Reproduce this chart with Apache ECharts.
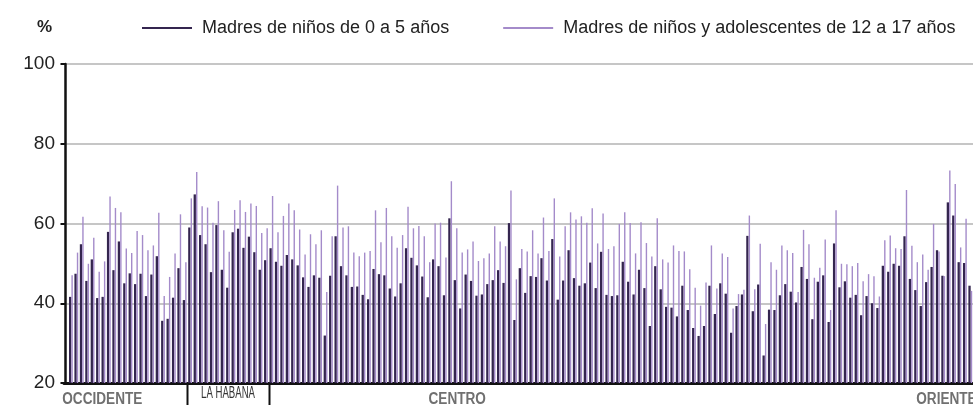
<!DOCTYPE html>
<html>
<head>
<meta charset="utf-8">
<title>Madres por municipio</title>
<script src="https://cdn.jsdelivr.net/npm/echarts@6/dist/echarts.min.js"></script>
<style>
  html, body { margin: 0; padding: 0; background: #fff; }
  #main { width: 973px; height: 405px; }
</style>
</head>
<body>
<div id="main"></div>
<script>
// porcentaje por municipio (orden occidente -> oriente)
const madres0a5 = [
  41.6, 47.4, 54.8, 45.6, 51.0, 41.3, 41.6, 57.9, 48.3, 55.5,
  45.0, 47.5, 44.8, 47.4, 41.8, 47.2, 51.8, 35.6, 36.1, 41.4,
  48.8, 40.8, 59.0, 67.3, 57.1, 54.8, 47.8, 59.6, 48.4, 43.9,
  57.8, 58.7, 53.9, 56.7, 52.8, 48.4, 50.8, 53.8, 50.4, 49.4,
  52.1, 51.0, 49.5, 46.5, 44.1, 47.0, 46.4, 31.9, 46.9, 56.8,
  49.3, 47.0, 44.1, 44.2, 42.1, 41.0, 48.6, 47.3, 47.0, 43.7,
  41.7, 45.0, 53.8, 51.4, 49.5, 46.7, 41.5, 51.0, 49.3, 42.0,
  61.3, 45.8, 38.7, 47.2, 45.6, 41.9, 42.2, 44.8, 45.8, 48.3,
  45.1, 60.1, 35.8, 48.8, 42.6, 46.8, 46.6, 51.3, 45.7, 56.1,
  40.9, 45.7, 53.3, 46.3, 44.4, 45.0, 50.2, 43.8, 52.9, 42.1,
  41.8, 42.0, 50.4, 45.4, 42.2, 48.4, 43.8, 34.3, 49.3, 43.5,
  39.1, 38.9, 36.7, 44.4, 38.3, 33.8, 31.8, 34.3, 44.4, 37.3,
  45.0, 42.4, 32.6, 39.3, 42.2, 56.9, 38.0, 44.7, 26.9, 38.4,
  38.3, 42.0, 44.8, 42.9, 40.2, 49.1, 46.1, 36.0, 45.4, 47.0,
  35.3, 55.0, 44.0, 45.5, 41.4, 42.1, 37.0, 41.8, 40.0, 38.8,
  49.4, 47.9, 49.9, 49.4, 56.8, 46.1, 43.3, 39.3, 45.3, 49.1,
  53.3, 46.9, 65.3, 62.0, 50.3, 50.1, 44.4
];
const madres12a17 = [
  47.0, 52.7, 61.7, 49.9, 56.4, 47.9, 50.5, 66.8, 63.9, 62.8,
  53.7, 52.6, 58.1, 57.1, 53.3, 54.5, 62.7, 41.8, 46.6, 52.5,
  62.3, 50.3, 66.3, 72.9, 64.3, 64.0, 60.2, 65.6, 58.3, 52.9,
  63.4, 65.8, 62.9, 65.0, 64.4, 57.6, 58.8, 66.9, 57.8, 61.9,
  65.0, 63.3, 58.5, 52.2, 57.3, 54.8, 58.3, 42.8, 56.8, 69.5,
  59.0, 59.3, 52.7, 51.8, 52.7, 53.1, 63.3, 55.3, 63.9, 56.8,
  53.9, 57.1, 64.2, 58.8, 59.4, 56.8, 50.3, 60.0, 60.2, 51.5,
  70.6, 58.8, 52.7, 53.5, 55.5, 50.6, 51.3, 52.5, 59.3, 55.5,
  54.3, 68.3, 46.0, 53.6, 53.0, 58.3, 52.5, 61.5, 53.1, 66.3,
  51.7, 59.3, 62.8, 61.0, 61.8, 60.2, 63.8, 55.0, 62.5, 53.6,
  54.3, 59.9, 62.8, 60.1, 52.5, 60.3, 55.1, 51.7, 61.3, 51.0,
  50.2, 54.5, 53.1, 53.0, 48.5, 43.9, 39.4, 45.2, 54.5, 43.7,
  52.5, 51.6, 38.7, 42.3, 43.4, 62.0, 43.5, 54.9, 34.8, 50.3,
  48.4, 54.5, 53.3, 52.6, 42.8, 58.4, 54.8, 46.4, 48.9, 56.0,
  38.3, 63.3, 49.9, 49.8, 49.3, 50.1, 45.5, 47.3, 46.8, 41.7,
  55.8, 57.0, 53.8, 53.6, 68.4, 54.4, 50.3, 52.2, 48.4, 59.9,
  53.0, 46.8, 73.3, 69.9, 54.0, 61.2, 43.1
];
// regiones: nombre, primer municipio, municipio donde va centrada la etiqueta
const regiones = ['OCCIDENTE', 'LA HABANA', 'CENTRO', 'ORIENTE'];
const regionInicio = [1, 23, 38, 107];
const regionEtiqueta = [6.8, 30.0, 72.3, 162.6];
const yTicks = [20, 40, 60, 80, 100];

const serieA = madres0a5.map((v, i) => [i + 1, v]);
const serieB = madres12a17.map((v, i) => [i + 1, v]);

const chart = echarts.init(document.getElementById('main'));
const font = "'Liberation Sans Narrow', 'Liberation Sans', sans-serif";

chart.setOption({
  animation: false,
  textStyle: { fontFamily: font },
  title: {
    text: '%', left: 37, top: 19, padding: 0,
    textStyle: { fontSize: 17, fontWeight: 'bold', color: '#222', fontFamily: font }
  },
  legend: {
    left: 137, top: 14, width: 900,
    itemWidth: 50, itemHeight: 2, itemGap: 54,
    icon: 'rect',
    textStyle: { fontSize: 18, color: '#222', fontFamily: font, padding: [0, 0, 0, 5] },
    data: ['Madres de niños de 0 a 5 años', 'Madres de niños y adolescentes de 12 a 17 años']
  },
  grid: { left: 64, right: 0, top: 64, bottom: 22 },
  xAxis: {
    type: 'value', min: -0.274, max: 167.5,
    axisLine: { show: true, onZero: false, lineStyle: { color: '#111', width: 3 } },
    axisTick: { show: false }, axisLabel: { show: false }, splitLine: { show: false }
  },
  yAxis: {
    type: 'value', min: yTicks[0], max: yTicks[yTicks.length - 1], interval: 20,
    axisLine: { show: true, lineStyle: { color: '#111', width: 2.5 } },
    axisTick: { show: true, length: 5, lineStyle: { color: '#111', width: 2 } },
    axisLabel: { fontSize: 19, color: '#222', margin: 9, fontFamily: font },
    splitLine: { lineStyle: { color: '#b3b3b3', width: 1.5 } }
  },
  series: [
    {
      name: 'Madres de niños de 0 a 5 años', type: 'bar', data: serieA,
      barWidth: 2.3, barGap: '5%',
      itemStyle: { color: '#34254f' }
    },
    {
      name: 'Madres de niños y adolescentes de 12 a 17 años', type: 'bar', data: serieB,
      barWidth: 1.4, barGap: '5%',
      itemStyle: { color: '#a48bca' }
    }
  ]
});

// etiquetas de regiones y separadores bajo el eje
const yBase = chart.convertToPixel({ yAxisIndex: 0 }, yTicks[0]);
const graficos = [];
regiones.forEach((r, k) => {
  const cx = chart.convertToPixel({ xAxisIndex: 0 }, regionEtiqueta[k]);
  const habana = r === 'LA HABANA';
  graficos.push({
    type: 'text', x: cx, y: habana ? yBase + 11 : yBase + 17,
    scaleX: habana ? 0.6 : 0.85, originX: 0, originY: 0,
    style: {
      text: r, align: 'center', verticalAlign: 'middle',
      font: (habana ? 'normal 16px ' : 'bold 16px ') + font,
      fill: habana ? '#333' : '#707070'
    }
  });
});
[regionInicio[1], regionInicio[2]].forEach(idx => {
  const x = Math.round(chart.convertToPixel({ xAxisIndex: 0 }, idx - 0.5)) + 0.5;
  graficos.push({
    type: 'line', shape: { x1: x, y1: yBase, x2: x, y2: yBase + 24 },
    style: { stroke: '#111', lineWidth: 2 }
  });
});
chart.setOption({ graphic: graficos });
</script>
</body>
</html>
